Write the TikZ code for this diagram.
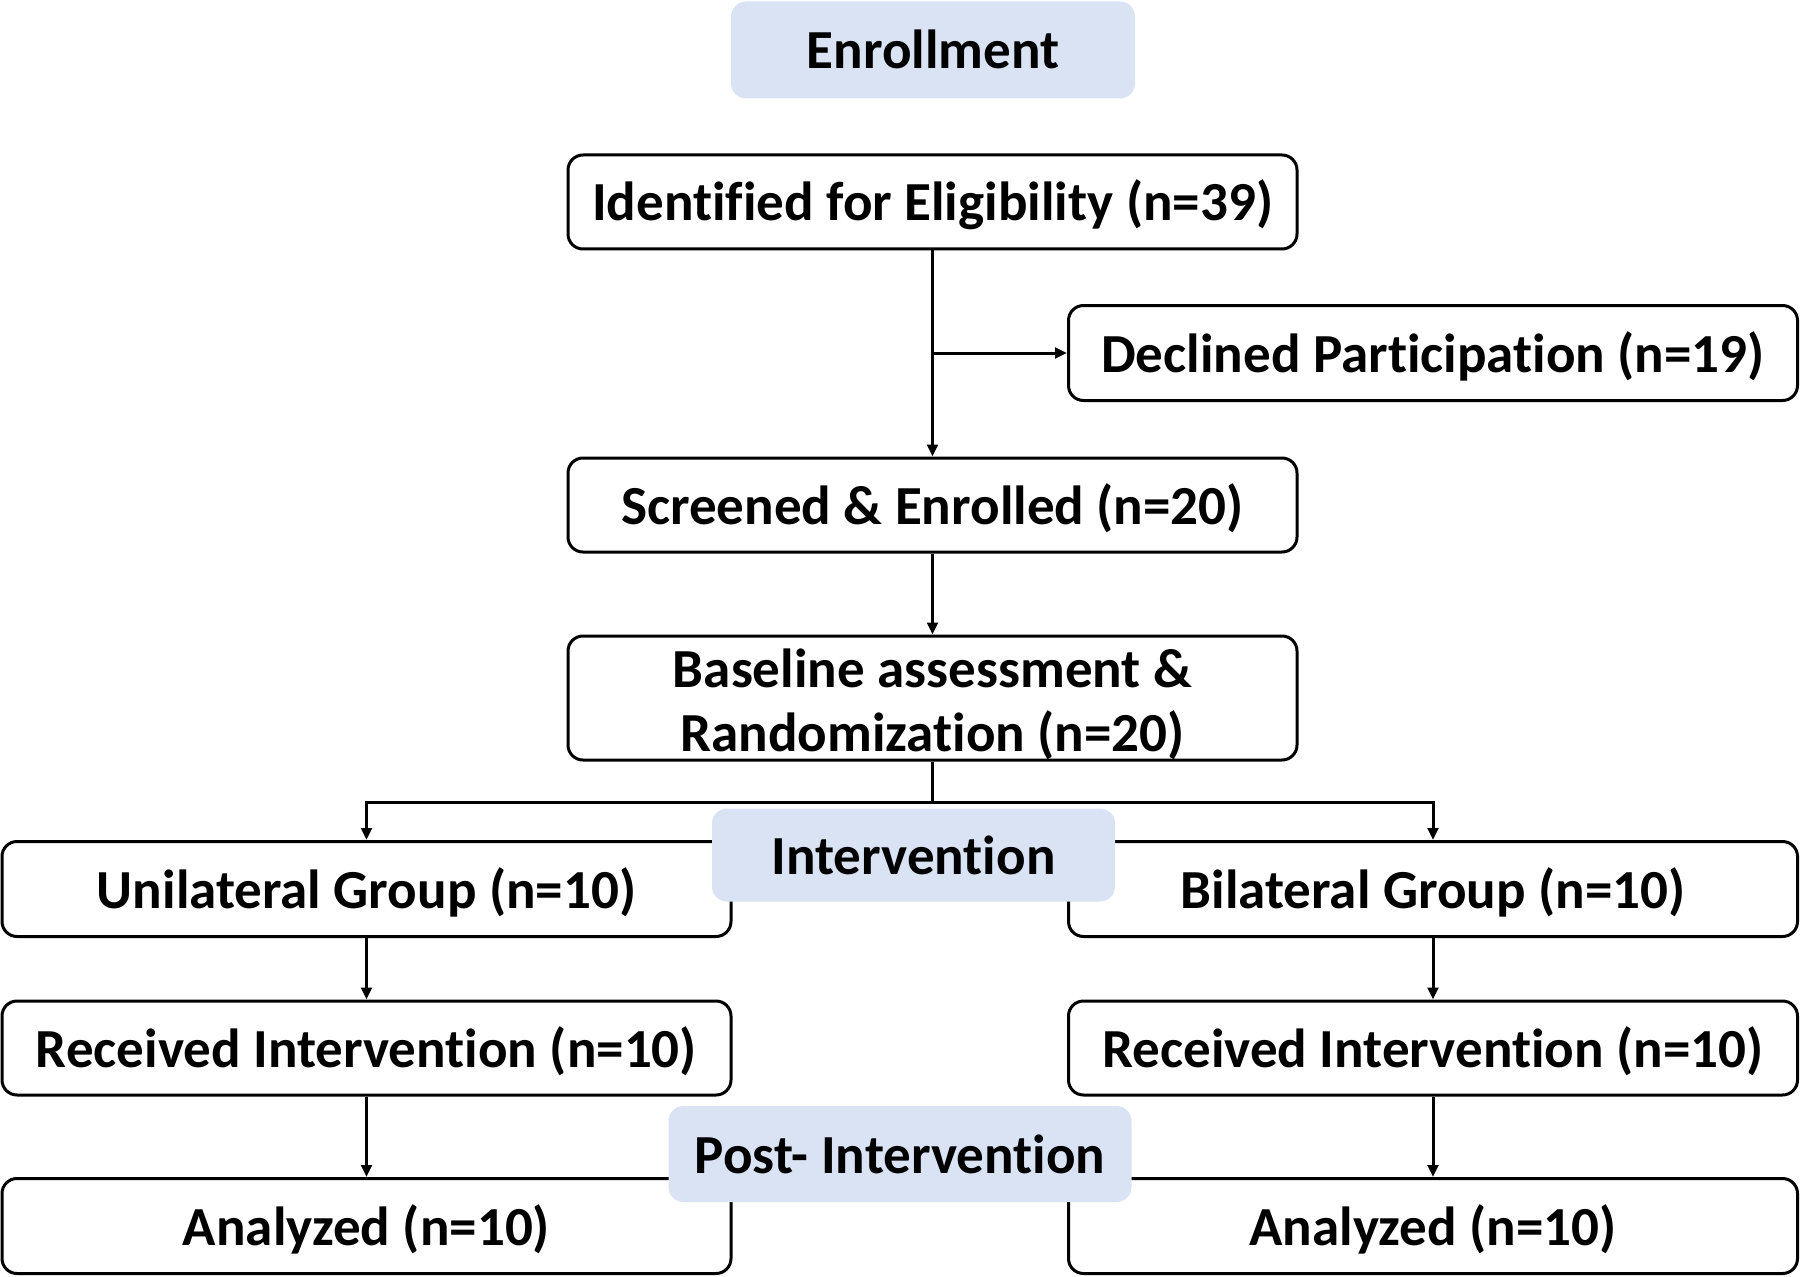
\documentclass[tikz,border=0pt]{standalone}
\usepackage{fontspec}
\setmainfont[Ligatures=NoCommon]{Carlito}
\usetikzlibrary{arrows.meta}
\usetikzlibrary{positioning}

\definecolor{phaseblue}{HTML}{DAE3F3}

\tikzset{
  flowbox/.style={draw=black, line width=2.25pt, rounded corners=11.25pt, fill=white,
    minimum width=546.75pt, minimum height=70.5pt, inner sep=0pt, align=center,
    text height=38pt, text depth=9.5pt,
    font=\fontsize{41.3}{48}\selectfont\bfseries},
  phase/.style={fill=phaseblue, rounded corners=11.25pt, inner sep=0pt,
    text height=38pt, text depth=9.5pt,
    font=\fontsize{41.3}{48}\selectfont\bfseries},
  arr/.style={line width=2.25pt, -{Triangle[length=9pt,width=8pt]}},
  plain/.style={line width=2.25pt}
}

\begin{document}
\begin{tikzpicture}[x=0.75pt,y=0.75pt,yscale=-1,xscale=1]
\useasboundingbox (0,0) rectangle (1800,1277);

% Boxes
\node [flowbox] (ident) at (932.5,202) {Identified for Eligibility (n=39)};
\node [flowbox, minimum height=71.25pt] (declined) at (1433,353) {Declined Participation (n=19)};
\node [flowbox] (screened) at (932.5,505) {Screened \& Enrolled (n=20)};
\node [flowbox, minimum height=93pt, text height=, text depth=] (baseline) at (932.5,698) {\rule{0pt}{38pt}Baseline assessment \&\\Randomization (n=20)};
\node [flowbox, minimum height=71.25pt] (unilat) at (366.5,889) {Unilateral Group (n=10)};
\node [flowbox, minimum height=71.25pt] (bilat) at (1433,889) {Bilateral Group (n=10)};
\node [flowbox] (recvL) at (366.5,1048) {Received Intervention (n=10)};
\node [flowbox] (recvR) at (1433,1048) {Received Intervention (n=10)};
\node [flowbox, minimum height=71.25pt] (analL) at (366.5,1226) {Analyzed (n=10)};
\node [flowbox, minimum height=71.25pt] (analR) at (1433,1226) {Analyzed (n=10)};

% Connectors
\coordinate (split) at (932.5,802);
\draw [arr] (ident) -- (screened);
\draw [arr] (ident.south |- declined) -- (declined.west);
\draw [arr] (screened) -- (baseline);
\draw [plain] (baseline.south) -- (split);
\draw [arr] (split) -| (unilat.north);
\draw [arr] (split) -| (bilat.north);
\draw [arr] (unilat) -- (recvL);
\draw [arr] (recvL) -- (analL);
\draw [arr] (bilat) -- (recvR);
\draw [arr] (recvR) -- (analR);

% Phase labels
\node [phase, minimum width=303pt, minimum height=72.75pt] (enroll) at (933,50) {Enrollment};
\node [phase, minimum width=302.25pt, minimum height=69.75pt] (interv) at (913.5,855) {Intervention};
\node [phase, minimum width=347.25pt, minimum height=72pt] (post) at (900,1154) {Post- Intervention};

\end{tikzpicture}
\end{document}
